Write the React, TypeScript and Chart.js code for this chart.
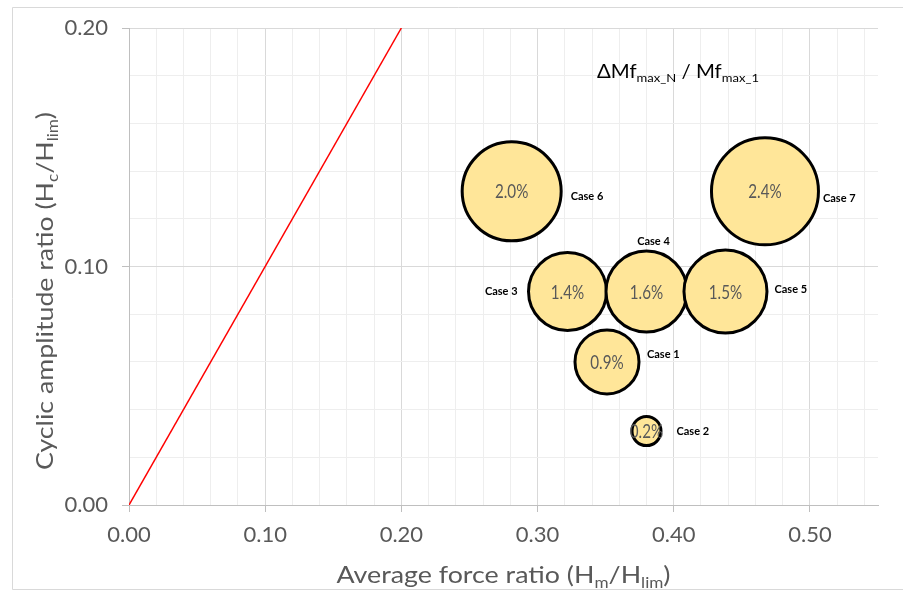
import { useEffect, useRef } from 'react';
import { Chart, registerables } from 'chart.js';

Chart.register(...registerables);

// ---- data ----
// listed in drawing order (later bubbles are drawn on top)
const caseNames = ['Case 3', 'Case 4', 'Case 5', 'Case 1', 'Case 2', 'Case 6', 'Case 7'];
const avgForceRatio = [0.322, 0.38, 0.438, 0.351, 0.38, 0.281, 0.467];
const cyclicAmpRatio = [0.0895, 0.0895, 0.0895, 0.06, 0.031, 0.1315, 0.1315];
const momentIncreasePct = [1.4, 1.6, 1.5, 0.9, 0.2, 2.0, 2.4];
const bubbleSize = [39, 40.5, 41.5, 32, 14.5, 49.5, 53.5];

const refLineX = [0, 0.2];
const refLineY = [0, 0.2];

const xTickValues = [
  0, 0.02, 0.04, 0.06, 0.08, 0.1, 0.12, 0.14, 0.16, 0.18, 0.2, 0.22, 0.24, 0.26,
  0.28, 0.3, 0.32, 0.34, 0.36, 0.38, 0.4, 0.42, 0.44, 0.46, 0.48, 0.5, 0.52, 0.54,
];
const yTickValues = [0, 0.02, 0.04, 0.06, 0.08, 0.1, 0.12, 0.14, 0.16, 0.18, 0.2];

// ---- layout / style ----
const FONT = 'Lato, "Open Sans", sans-serif';
const TEXT_GRAY = '#595959';

const caseLabelPos: Record<string, { dx: number; dy: number; align: CanvasTextAlign }> = {
  'Case 1': { dx: 40, dy: -7, align: 'left' },
  'Case 2': { dx: 30, dy: 0, align: 'left' },
  'Case 3': { dx: -50, dy: 0, align: 'right' },
  'Case 4': { dx: 7, dy: -50, align: 'center' },
  'Case 5': { dx: 49, dy: -2, align: 'left' },
  'Case 6': { dx: 59, dy: 5, align: 'left' },
  'Case 7': { dx: 58, dy: 7, align: 'left' },
};

type Seg = { t: string; sub?: boolean };

function isMajor(v: number) {
  return Math.abs(v * 10 - Math.round(v * 10)) < 1e-6;
}

function drawRich(
  ctx: CanvasRenderingContext2D,
  segs: Seg[],
  size: number,
  color: string,
  targetWidth: number | null,
  align: 'left' | 'center'
) {
  const subSize = size * 0.64;
  const subDrop = size * 0.2;
  const fMain = `${size}px ${FONT}`;
  const fSub = `${subSize}px ${FONT}`;
  let w = 0;
  for (const s of segs) {
    ctx.font = s.sub ? fSub : fMain;
    w += ctx.measureText(s.t).width;
  }
  const sx = targetWidth ? targetWidth / w : 1;
  ctx.save();
  ctx.scale(sx, 1);
  ctx.fillStyle = color;
  ctx.textAlign = 'left';
  ctx.textBaseline = 'alphabetic';
  let cx = align === 'center' ? -w / 2 : 0;
  for (const s of segs) {
    ctx.font = s.sub ? fSub : fMain;
    ctx.fillText(s.t, cx, s.sub ? subDrop : 0);
    cx += ctx.measureText(s.t).width;
  }
  ctx.restore();
}

const decorPlugin = {
  id: 'decor',
  beforeDraw(chart: any) {
    const ctx = chart.ctx as CanvasRenderingContext2D;
    ctx.save();
    ctx.fillStyle = '#ffffff';
    ctx.fillRect(0, 0, chart.width, chart.height);
    ctx.strokeStyle = '#d9d9d9';
    ctx.lineWidth = 1;
    ctx.beginPath();
    ctx.moveTo(chart.width + 2, 7.5);
    ctx.lineTo(12.5, 7.5);
    ctx.lineTo(12.5, 589.5);
    ctx.lineTo(chart.width + 2, 589.5);
    ctx.stroke();
    ctx.restore();
  },
  afterDatasetsDraw(chart: any) {
    const ctx = chart.ctx as CanvasRenderingContext2D;
    const area = chart.chartArea;
    const meta = chart.getDatasetMeta(1);

    // values inside bubbles and case labels
    meta.data.forEach((el: any, i: number) => {
      const x = el.x;
      const y = el.y;
      ctx.save();
      ctx.translate(x, y);
      ctx.scale(0.8, 1);
      ctx.font = `19px ${FONT}`;
      ctx.fillStyle = TEXT_GRAY;
      ctx.textAlign = 'center';
      ctx.textBaseline = 'middle';
      ctx.fillText(momentIncreasePct[i].toFixed(1) + '%', 0, 1);
      ctx.restore();

      const name = caseNames[i];
      const p = caseLabelPos[name];
      ctx.save();
      ctx.font = `bold 11px ${FONT}`;
      ctx.fillStyle = '#000000';
      ctx.textAlign = p.align;
      ctx.textBaseline = 'middle';
      ctx.fillText(name, x + p.dx, y + p.dy);
      ctx.restore();
    });

    // in-plot title
    ctx.save();
    ctx.translate(597, 78);
    drawRich(
      ctx,
      [{ t: 'ΔMf' }, { t: 'max_N', sub: true }, { t: ' / Mf' }, { t: 'max_1', sub: true }],
      19,
      '#000000',
      162,
      'left'
    );
    ctx.restore();

    // x axis title
    ctx.save();
    ctx.translate((area.left + area.right) / 2, 583);
    drawRich(
      ctx,
      [{ t: 'Average force ratio (H' }, { t: 'm', sub: true }, { t: '/H' }, { t: 'lim', sub: true }, { t: ')' }],
      24,
      TEXT_GRAY,
      334,
      'center'
    );
    ctx.restore();

    // y axis title
    ctx.save();
    ctx.translate(53, 291);
    ctx.rotate(-Math.PI / 2);
    drawRich(
      ctx,
      [{ t: 'Cyclic amplitude ratio (H' }, { t: 'c', sub: true }, { t: '/H' }, { t: 'lim', sub: true }, { t: ')' }],
      24,
      TEXT_GRAY,
      358,
      'center'
    );
    ctx.restore();
  },
};

export default function App() {
  const ref = useRef<HTMLCanvasElement | null>(null);

  useEffect(() => {
    document.body.style.margin = '0';
    document.body.style.overflow = 'hidden';
    const canvas = ref.current;
    if (!canvas) return;

    const bubbles = caseNames.map((_, i) => ({
      x: avgForceRatio[i],
      y: cyclicAmpRatio[i],
      r: bubbleSize[i],
    }));
    const line = refLineX.map((x, i) => ({ x, y: refLineY[i] }));

    const gridColor = (c: any) => (c.tick && isMajor(c.tick.value) ? '#d9d9d9' : '#eeeeee');
    const tickColor = (c: any) => (c.tick && isMajor(c.tick.value) ? '#bfbfbf' : 'rgba(0,0,0,0)');

    const chart = new Chart(canvas, {
      type: 'bubble',
      data: {
        datasets: [
          {
            type: 'line',
            data: line,
            borderColor: '#ff0000',
            borderWidth: 1.5,
            pointRadius: 0,
            fill: false,
          } as any,
          {
            type: 'bubble',
            data: bubbles,
            backgroundColor: '#FFE699',
            borderColor: '#000000',
            borderWidth: 3,
            clip: false,
          } as any,
        ],
      },
      options: {
        responsive: false,
        animation: false,
        devicePixelRatio: 1,
        events: [],
        layout: { autoPadding: false, padding: { left: 0, right: 25, top: 28, bottom: 0 } },
        plugins: { legend: { display: false }, tooltip: { enabled: false }, title: { display: false } },
        scales: {
          x: {
            type: 'linear',
            min: 0,
            max: 0.55,
            afterBuildTicks: (s: any) => {
              s.ticks = xTickValues.map((v) => ({ value: v }));
            },
            afterFit: (s: any) => {
              s.height = 87;
            },
            ticks: {
              autoSkip: false,
              maxRotation: 0,
              minRotation: 0,
              padding: 10,
              color: TEXT_GRAY,
              font: { family: FONT, size: 22 },
              callback: (v: any) => (isMajor(Number(v)) ? Number(v).toFixed(2) : ''),
            },
            grid: { color: gridColor, tickColor, tickLength: 7, lineWidth: 1 },
            border: { color: '#bfbfbf', width: 1 },
          },
          y: {
            type: 'linear',
            min: 0,
            max: 0.2,
            afterBuildTicks: (s: any) => {
              s.ticks = yTickValues.map((v) => ({ value: v }));
            },
            afterFit: (s: any) => {
              s.width = 129;
            },
            ticks: {
              autoSkip: false,
              padding: 14,
              color: TEXT_GRAY,
              font: { family: FONT, size: 22 },
              callback: (v: any) => (isMajor(Number(v)) ? Number(v).toFixed(2) : ''),
            },
            grid: { color: gridColor, tickColor, tickLength: 7, lineWidth: 1 },
            border: { color: '#bfbfbf', width: 1 },
          },
        },
      },
      plugins: [decorPlugin],
    });

    return () => chart.destroy();
  }, []);

  return (
    <div style={{ width: 903, height: 592 }}>
      <canvas ref={ref} width={903} height={592} style={{ display: 'block', width: 903, height: 592 }} />
    </div>
  );
}
